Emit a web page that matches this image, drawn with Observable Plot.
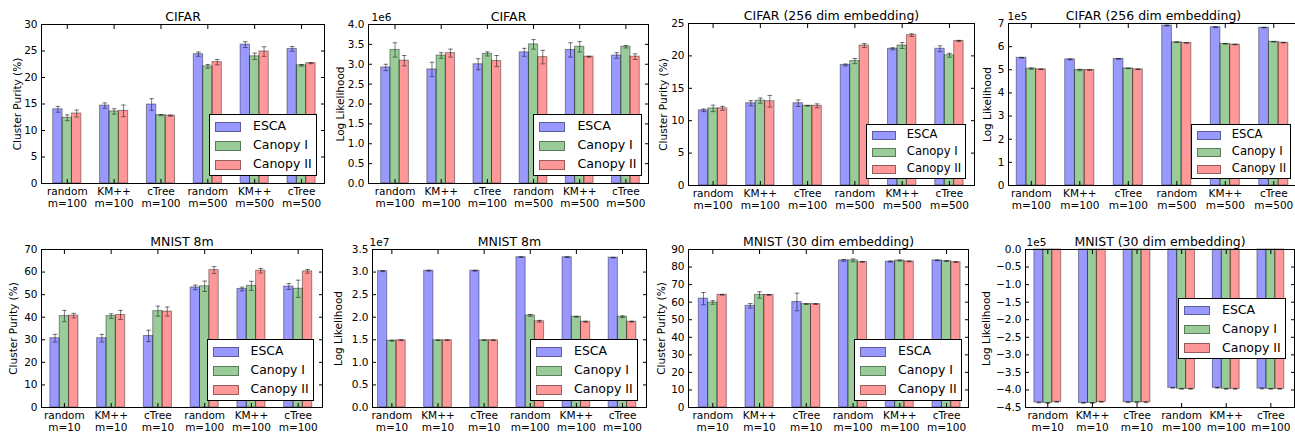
<!DOCTYPE html>
<html>
<head>
<meta charset="utf-8">
<script src="https://cdn.jsdelivr.net/npm/d3@7"></script>
<script src="https://cdn.jsdelivr.net/npm/@observablehq/plot@0.6"></script>
<style>
  body { margin: 0; background: #fff; }
  #fig { position: relative; width: 1295px; height: 435px; overflow: hidden; font-family: "DejaVu Sans", sans-serif; background: #fff; }
  .panel { position: absolute; }
  .legend { position: absolute; background: #fff; border: 1px solid #000; box-sizing: border-box; z-index: 5; }
  .legend .sw { position: absolute; box-sizing: border-box; }
  .legend .lt { position: absolute; white-space: nowrap; color: #000; line-height: 1; }
</style>
</head>
<body>
<div id="fig"></div>
<script>
// ---------------- data ----------------
const series = ["ESCA", "Canopy I", "Canopy II"];
const seriesColors = ["#0000ff", "#008000", "#ff0000"];

const groupsCifar = ["random\nm=100", "KM++\nm=100", "cTree\nm=100", "random\nm=500", "KM++\nm=500", "cTree\nm=500"];
const groupsMnist = ["random\nm=10", "KM++\nm=10", "cTree\nm=10", "random\nm=100", "KM++\nm=100", "cTree\nm=100"];

// each row: one group, values for [ESCA, Canopy I, Canopy II]
const cifarPurity = [[14.0, 12.4, 13.2], [14.7, 13.6, 13.7], [14.9, 12.9, 12.8], [24.4, 22.1, 22.9], [26.2, 24.0, 24.9], [25.4, 22.3, 22.7]];
const cifarPurityErr = [[0.55, 0.55, 0.65], [0.5, 0.5, 1.1], [1.1, 0.1, 0.1], [0.4, 0.35, 0.5], [0.55, 0.6, 0.9], [0.45, 0.15, 0.1]];

const cifarLL = [[2.92e6, 3.36e6, 3.09e6], [2.87e6, 3.22e6, 3.28e6], [3.00e6, 3.26e6, 3.08e6], [3.30e6, 3.50e6, 3.18e6], [3.36e6, 3.44e6, 3.19e6], [3.22e6, 3.44e6, 3.19e6]];
const cifarLLErr = [[0.08e6, 0.18e6, 0.13e6], [0.18e6, 0.07e6, 0.1e6], [0.14e6, 0.05e6, 0.14e6], [0.1e6, 0.12e6, 0.17e6], [0.18e6, 0.13e6, 0.01e6], [0.07e6, 0.03e6, 0.07e6]];

const cifarEmbPurity = [[11.6, 11.9, 11.9], [12.7, 13.1, 13.0], [12.7, 12.3, 12.3], [18.6, 19.2, 21.6], [21.1, 21.6, 23.2], [21.1, 20.1, 22.3]];
const cifarEmbPurityErr = [[0.2, 0.5, 0.3], [0.4, 0.4, 0.9], [0.5, 0.05, 0.3], [0.15, 0.4, 0.3], [0.15, 0.45, 0.2], [0.45, 0.3, 0.1]];

const cifarEmbLL = [[5.52e5, 5.05e5, 5.02e5], [5.45e5, 4.99e5, 4.99e5], [5.47e5, 5.06e5, 5.02e5], [6.91e5, 6.19e5, 6.16e5], [6.84e5, 6.12e5, 6.09e5], [6.82e5, 6.21e5, 6.17e5]];
const cifarEmbLLErr = [[0.01e5, 0.03e5, 0.01e5], [0.02e5, 0.03e5, 0.01e5], [0.01e5, 0.005e5, 0.01e5], [0.02e5, 0.01e5, 0.01e5], [0.02e5, 0.01e5, 0.01e5], [0.01e5, 0.005e5, 0.01e5]];

const mnistPurity = [[30.7, 40.5, 40.7], [30.7, 40.5, 41.0], [31.7, 42.7, 42.5], [53.2, 53.7, 60.9], [52.5, 53.9, 60.6], [53.6, 52.6, 60.3]];
const mnistPurityErr = [[1.7, 2.5, 1.0], [1.7, 1.0, 2.0], [2.5, 2.2, 2.0], [1.0, 2.3, 1.5], [0.8, 2.0, 1.0], [1.3, 3.8, 0.8]];

const mnistLL = [[3.02e7, 1.48e7, 1.49e7], [3.03e7, 1.49e7, 1.49e7], [3.03e7, 1.49e7, 1.49e7], [3.33e7, 2.04e7, 1.91e7], [3.33e7, 2.01e7, 1.90e7], [3.32e7, 2.01e7, 1.90e7]];
const mnistLLErr = [[0.01e7, 0.01e7, 0.01e7], [0.01e7, 0.005e7, 0.005e7], [0.01e7, 0.005e7, 0.005e7], [0.005e7, 0.02e7, 0.02e7], [0.005e7, 0.01e7, 0.01e7], [0.005e7, 0.02e7, 0.01e7]];

const mnistEmbPurity = [[62.0, 59.8, 64.2], [57.9, 64.1, 64.1], [60.1, 58.9, 58.9], [83.8, 83.8, 82.9], [83.1, 83.7, 83.2], [83.8, 83.4, 82.8]];
const mnistEmbPurityErr = [[3.5, 1.0, 0.2], [1.3, 1.8, 0.2], [5.0, 0.2, 0.2], [0.5, 0.8, 0.2], [0.3, 0.3, 0.2], [0.2, 0.2, 0.2]];

const mnistEmbLL = [[-4.36e5, -4.37e5, -4.34e5], [-4.37e5, -4.37e5, -4.34e5], [-4.35e5, -4.35e5, -4.35e5], [-3.94e5, -3.97e5, -3.97e5], [-3.94e5, -3.97e5, -3.97e5], [-3.96e5, -3.97e5, -3.97e5]];
const mnistEmbLLErr = [[0.01e5, 0.01e5, 0.01e5], [0.01e5, 0.01e5, 0.01e5], [0.01e5, 0.01e5, 0.01e5], [0.01e5, 0.01e5, 0.01e5], [0.01e5, 0.01e5, 0.01e5], [0.01e5, 0.01e5, 0.01e5]];

// tick values
const ticksPurity30 = [0, 5, 10, 15, 20, 25, 30];
const ticksLL4e6 = [0, 0.5e6, 1.0e6, 1.5e6, 2.0e6, 2.5e6, 3.0e6, 3.5e6, 4.0e6];
const ticksPurity25 = [0, 5, 10, 15, 20, 25];
const ticksLL7e5 = [0, 1e5, 2e5, 3e5, 4e5, 5e5, 6e5, 7e5];
const ticksPurity70 = [0, 10, 20, 30, 40, 50, 60, 70];
const ticksLL35e6 = [0, 0.5e7, 1.0e7, 1.5e7, 2.0e7, 2.5e7, 3.0e7, 3.5e7];
const ticksPurity90 = [0, 10, 20, 30, 40, 50, 60, 70, 80, 90];
const ticksLLneg = [0, -0.5e5, -1.0e5, -1.5e5, -2.0e5, -2.5e5, -3.0e5, -3.5e5, -4.0e5, -4.5e5];

// ---------------- layout ----------------
const fmtPlain = d => String(d);
const fmtScaled = (k, digits) => d => {
  const s = (d / k).toFixed(digits);
  return s.replace("-", "\u2212");
};

const panels = [
  {title: "CIFAR", ylabel: "Cluster Purity (%)", groups: groupsCifar, values: cifarPurity, errors: cifarPurityErr,
   yDomain: [0, 30], yTicks: ticksPurity30, yFmt: fmtPlain, offset: null,
   frame: [41, 24, 324, 183], xDomain: [-0.55, 5.49], labelDx: -24, legend: [209, 114, 317, 176]},
  {title: "CIFAR", ylabel: "Log Likelihood", groups: groupsCifar, values: cifarLL, errors: cifarLLErr,
   yDomain: [0, 4e6], yTicks: ticksLL4e6, yFmt: fmtScaled(1e6, 1), offset: "1e6", offsetDx: 3,
   frame: [368, 24, 648, 183], xDomain: [-0.575, 5.49], labelDx: -28, legend: [533, 114, 642, 176]},
  {title: "CIFAR (256 dim embedding)", ylabel: "Cluster Purity (%)", groups: groupsCifar, values: cifarEmbPurity, errors: cifarEmbPurityErr,
   yDomain: [0, 25], yTicks: ticksPurity25, yFmt: fmtPlain, offset: null,
   frame: [688, 23, 974, 185], xDomain: [-0.52, 5.53], labelDx: -25, legend: [866, 124, 966, 179]},
  {title: "CIFAR (256 dim embedding)", ylabel: "Log Likelihood", groups: groupsCifar, values: cifarEmbLL, errors: cifarEmbLLErr,
   yDomain: [0, 7e5], yTicks: ticksLL7e5, yFmt: fmtScaled(1e5, 0), offset: "1e5", offsetDx: -1,
   frame: [1008, 23, 1298, 185], xDomain: [-0.47, 5.51], labelDx: -21, legend: [1191, 124, 1291, 179]},
  {title: "MNIST 8m", ylabel: "Cluster Purity (%)", groups: groupsMnist, values: mnistPurity, errors: mnistPurityErr,
   yDomain: [0, 70], yTicks: ticksPurity70, yFmt: fmtPlain, offset: null,
   frame: [41, 249, 322, 407], xDomain: [-0.49, 5.52], labelDx: -28, legend: [207, 339, 314, 401]},
  {title: "MNIST 8m", ylabel: "Log Likelihood", groups: groupsMnist, values: mnistLL, errors: mnistLLErr,
   yDomain: [0, 3.5e7], yTicks: ticksLL35e6, yFmt: fmtScaled(1e7, 1), offset: "1e7", offsetDx: -3,
   frame: [372, 249, 646, 407], xDomain: [-0.42, 5.52], labelDx: -34, legend: [530, 339, 638, 401]},
  {title: "MNIST (30 dim embedding)", ylabel: "Cluster Purity (%)", groups: groupsMnist, values: mnistEmbPurity, errors: mnistEmbPurityErr,
   yDomain: [0, 90], yTicks: ticksPurity90, yFmt: fmtPlain, offset: null,
   frame: [688, 249, 968, 407], xDomain: [-0.52, 5.47], labelDx: -27, legend: [854, 339, 962, 401]},
  {title: "MNIST (30 dim embedding)", ylabel: "Log Likelihood", groups: groupsMnist, values: mnistEmbLL, errors: mnistEmbLLErr,
   yDomain: [-4.5e5, 0], yTicks: ticksLLneg, yFmt: fmtScaled(1e5, 1), offset: "1e5", offsetDx: 1,
   frame: [1025, 249, 1294, 407], xDomain: [-0.5, 5.53], labelDx: -39, legend: [1178, 298, 1286, 359]}
];

const BAR_W = 0.2;
const CAP = 0.05;
const mL = 52, mR = 4, mT = 26, mB = 30;
const fig = document.getElementById("fig");
const groupIdx = [0, 1, 2, 3, 4, 5];

for (const p of panels) {
  const [fl, ft, fr, fb] = p.frame;
  const rows = p.values.flatMap((vals, g) => vals.map((v, s) => ({g, s, name: series[s], v, e: p.errors[g][s]})));
  const left = d => d.g - 1.5 * BAR_W + BAR_W * d.s;
  const mid = d => left(d) + BAR_W / 2;

  const chart = Plot.plot({
    width: (fr - fl) + mL + mR,
    height: (fb - ft) + mT + mB,
    marginLeft: mL, marginRight: mR, marginTop: mT, marginBottom: mB,
    style: {fontFamily: "DejaVu Sans", fontSize: "10.5px", color: "#000", background: "transparent", overflow: "visible"},
    x: {domain: p.xDomain},
    y: {domain: p.yDomain},
    color: {domain: series, range: seriesColors},
    marks: [
      Plot.rect(rows, {x1: left, x2: d => left(d) + BAR_W, y1: 0, y2: "v", fill: "name", fillOpacity: 0.4, stroke: "#000", strokeOpacity: 0.4, strokeWidth: 1}),
      Plot.ruleX(rows, {x: mid, y1: d => d.v - d.e, y2: d => d.v + d.e, stroke: "#000", strokeOpacity: 0.5}),
      Plot.link(rows, {x1: d => mid(d) - CAP, x2: d => mid(d) + CAP, y1: d => d.v - d.e, y2: d => d.v - d.e, stroke: "#000", strokeOpacity: 0.5}),
      Plot.link(rows, {x1: d => mid(d) - CAP, x2: d => mid(d) + CAP, y1: d => d.v + d.e, y2: d => d.v + d.e, stroke: "#000", strokeOpacity: 0.5}),
      Plot.frame({stroke: "#000", strokeWidth: 1}),
      Plot.axisY({anchor: "left", ticks: p.yTicks, tickFormat: p.yFmt, tickSize: 0, tickPadding: 4, label: null, fontSize: 10.5}),
      Plot.axisY({anchor: "left", ticks: p.yTicks, tickSize: 4, dx: 4, fill: "none", label: null}),
      Plot.axisY({anchor: "right", ticks: p.yTicks, tickSize: 4, dx: -4, fill: "none", label: null}),
      Plot.axisX({anchor: "bottom", ticks: groupIdx, tickFormat: i => p.groups[i], tickSize: 0, tickPadding: 3, lineHeight: 1.15, label: null, fontSize: 10.5}),
      Plot.axisX({anchor: "bottom", ticks: groupIdx, tickSize: 4, dy: -4, fill: "none", label: null}),
      Plot.axisX({anchor: "top", ticks: groupIdx, tickSize: 4, dy: 4, fill: "none", label: null}),
      Plot.text([p.title], {frameAnchor: "top", lineAnchor: "middle", dy: -8, fontSize: 12.5, fill: "#000"}),
      Plot.text([p.ylabel], {frameAnchor: "left", rotate: -90, dx: p.labelDx, lineAnchor: "middle", textAnchor: "middle", fontSize: 10.5, fill: "#000"}),
      p.offset ? Plot.text([p.offset], {frameAnchor: "top-left", textAnchor: "start", lineAnchor: "middle", dx: p.offsetDx, dy: -7, fontSize: 10.5, fill: "#000"}) : null
    ]
  });
  chart.classList.add("panel");
  chart.style.left = (fl - mL) + "px";
  chart.style.top = (ft - mT) + "px";
  chart.style.maxWidth = "none";
  fig.appendChild(chart);

  // legend (inside axes, lower right)
  const [ll, lt, lr, lb] = p.legend;
  const W = lr - ll, H = lb - lt;
  const sx = W / 108, sy = H / 62;
  const lg = document.createElement("div");
  lg.className = "legend";
  Object.assign(lg.style, {left: ll + "px", top: lt + "px", width: W + "px", height: H + "px"});
  series.forEach((name, k) => {
    const cy = H * (0.19 + 0.31 * k);
    const sw = document.createElement("div");
    sw.className = "sw";
    const c = d3.color(seriesColors[k]); c.opacity = 0.4;
    Object.assign(sw.style, {left: (5 * sx) + "px", top: (cy - 5 * sy) + "px", width: (26 * sx) + "px", height: (10 * sy) + "px",
      background: c.formatRgb(), border: "1px solid rgba(0,0,0,0.4)"});
    lg.appendChild(sw);
    const t = document.createElement("div");
    t.className = "lt";
    const fs = 12.5 * sx;
    Object.assign(t.style, {left: (43 * sx) + "px", top: (cy - fs * 0.55) + "px", fontSize: fs + "px"});
    t.textContent = name;
    lg.appendChild(t);
  });
  fig.appendChild(lg);
}
</script>
</body>
</html>
